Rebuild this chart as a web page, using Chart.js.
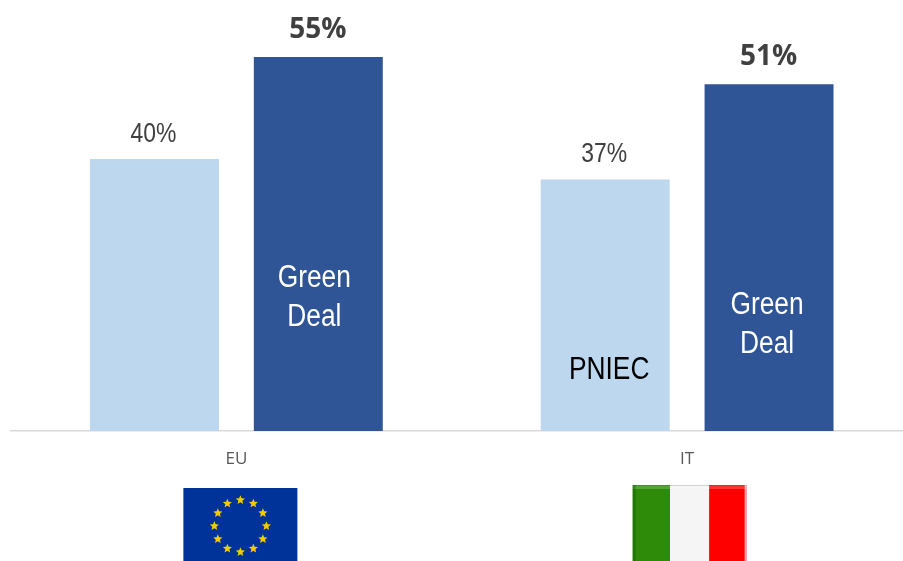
<!DOCTYPE html>
<html>
<head>
<meta charset="utf-8">
<style>
  html, body { margin: 0; padding: 0; width: 903px; height: 561px; overflow: hidden; background: #fff; }
  canvas { display: block; }
</style>
<script src="https://cdn.jsdelivr.net/npm/chart.js@4/dist/chart.umd.min.js"></script>
</head>
<body>
<canvas id="chart" width="913" height="561"></canvas>
<script>
const categories = ['EU', 'IT'];
const planValues = [40, 37];
const dealValues = [55, 51];
const planNames = ['', 'PNIEC'];
const dealNames = [['Green', 'Deal'], ['Green', 'Deal']];

const PLAIN = '"Liberation Sans", Arial, sans-serif';
const BOLD = '"Open Sans", "Noto Sans", sans-serif';
const NARROWING = 0.85;

// Text squeezed horizontally to give a condensed face
function narrowText(ctx, text, x, y) {
  ctx.save();
  ctx.translate(x, y);
  ctx.scale(NARROWING, 1);
  ctx.fillText(text, 0, 0);
  ctx.restore();
}

// Percentage above each bar and the scenario name set inside it
const barLabels = {
  id: 'barLabels',
  afterDatasetsDraw(chart) {
    const ctx = chart.ctx;
    ctx.save();
    ctx.textAlign = 'center';
    ctx.textBaseline = 'middle';
    chart.data.datasets.forEach((ds, i) => {
      chart.getDatasetMeta(i).data.forEach((bar, j) => {
        const value = ds.data[j];
        ctx.font = ds.valueFont;
        ctx.fillStyle = '#404040';
        if (ds.valueNarrow) narrowText(ctx, value + '%', bar.x - 1, bar.y + ds.valueLift);
        else ctx.fillText(value + '%', bar.x - 0.5, bar.y + ds.valueLift);

        const name = ds.names[j];
        if (!name) return;
        const lines = Array.isArray(name) ? name : [name];
        ctx.font = '31px ' + PLAIN;
        ctx.fillStyle = ds.nameColor;
        const mid = bar.y + ds.nameDrop;
        lines.forEach((line, k) => {
          narrowText(ctx, line, bar.x + ds.nameShift[j], mid + (k - (lines.length - 1) / 2) * 39);
        });
      });
    });
    ctx.restore();
  }
};

function star(ctx, cx, cy, r) {
  ctx.beginPath();
  for (let i = 0; i < 10; i++) {
    const a = -Math.PI / 2 + i * Math.PI / 5;
    const rr = i % 2 ? r * 0.45 : r;
    ctx.lineTo(cx + rr * Math.cos(a), cy + rr * Math.sin(a));
  }
  ctx.closePath();
  ctx.fill();
}

function drawEuFlag(ctx, cx) {
  const x = cx - 57, y = 488, w = 114, h = 80;
  ctx.fillStyle = '#003399';
  ctx.fillRect(x, y, w, h);
  ctx.fillStyle = '#F2CC00';
  for (let i = 0; i < 12; i++) {
    const a = i * Math.PI / 6;
    star(ctx, cx + 26 * Math.sin(a), 526 - 26 * Math.cos(a), 4.8);
  }
}

function drawItFlag(ctx, cx) {
  const x = cx - 57, y = 485, h = 80;
  const bands = [[0, 37.5, '#2E8B0A'], [37.5, 39, '#F5F5F5'], [76.5, 37.5, '#FF0000']];
  bands.forEach(([off, w, col]) => {
    ctx.fillStyle = col;
    ctx.fillRect(x + off, y, w, h);
  });
  // Soft bevel round the edge of the flag
  ctx.fillStyle = 'rgba(255,255,255,0.2)';
  ctx.fillRect(x, y, 114, 4);
  ctx.fillStyle = 'rgba(0,0,0,0.15)';
  ctx.fillRect(x, y, 114, 1);
  ctx.fillStyle = 'rgba(0,70,0,0.3)';
  ctx.fillRect(x, y, 3, h);
  ctx.fillStyle = 'rgba(255,255,255,0.65)';
  ctx.fillRect(x + 112, y, 2, h);
}

// Flags under the category labels
const flags = {
  id: 'flags',
  afterDraw(chart) {
    const ctx = chart.ctx;
    const xs = chart.scales.x;
    ctx.save();
    drawEuFlag(ctx, xs.getPixelForTick(0) + 4);
    drawItFlag(ctx, xs.getPixelForTick(1) + 2.5);
    ctx.restore();
  }
};

new Chart(document.getElementById('chart'), {
  type: 'bar',
  data: {
    labels: categories,
    datasets: [
      {
        label: 'PNIEC',
        data: planValues,
        names: planNames,
        backgroundColor: '#BDD7EE',
        valueFont: '27px ' + PLAIN,
        valueNarrow: true,
        valueLift: -24.5,
        nameDrop: 191,
        nameShift: [0, 4],
        nameColor: '#000000'
      },
      {
        label: 'Green Deal',
        data: dealValues,
        names: dealNames,
        backgroundColor: '#2F5597',
        valueFont: 'bold 28px ' + BOLD,
        valueNarrow: false,
        valueLift: -27,
        nameDrop: 240.5,
        nameShift: [-4, -2],
        nameColor: '#FFFFFF'
      }
    ]
  },
  options: {
    responsive: false,
    animation: false,
    events: [],
    layout: { padding: { left: 11, right: 0.5, top: 0, bottom: 0 } },
    categoryPercentage: 0.727,
    barPercentage: 0.787,
    plugins: { legend: { display: false }, tooltip: { enabled: false } },
    scales: {
      y: { display: false, min: 0, max: 63.4 },
      x: {
        afterFit(scale) { scale.height = 130; },
        grid: { display: false, drawTicks: false },
        border: { display: true, color: '#D9D9D9', width: 1.5 },
        ticks: {
          padding: 18,
          color: '#595959',
          font: { family: BOLD, size: 17 },
          maxRotation: 0
        }
      }
    }
  },
  plugins: [barLabels, flags]
});
</script>
</body>
</html>
